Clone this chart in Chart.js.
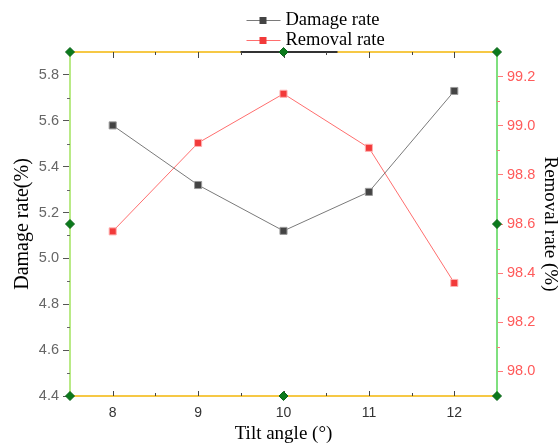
<!DOCTYPE html>
<html>
<head>
<meta charset="utf-8">
<script src="https://cdn.jsdelivr.net/npm/chart.js@4/dist/chart.umd.min.js"></script>
<style>
  html, body { margin: 0; padding: 0; background: #fff; }
  #wrap { width: 558px; height: 444px; position: relative; }
</style>
</head>
<body>
<div id="wrap"><canvas id="tiltChart"></canvas></div>
<script>
const tiltAngles = [8, 9, 10, 11, 12];
const damageRate = [5.58, 5.32, 5.12, 5.29, 5.73];
const removalRate = [98.57, 98.93, 99.13, 98.91, 98.36];

const xTicks = [8, 9, 10, 11, 12];
const damageTicks = [4.4, 4.6, 4.8, 5.0, 5.2, 5.4, 5.6, 5.8];
const removalTicks = [98.0, 98.2, 98.4, 98.6, 98.8, 99.0, 99.2];

// frame markers (green diamonds on corners and edge middles)
const frameX = [7.5, 10, 12.5];
const frameY = [4.4, 5.15, 5.9];

const serif = "'Liberation Serif', 'Times New Roman', serif";
const sans = "'Liberation Sans', Arial, sans-serif";

function midpoints(arr) {
    const out = [];
    for (let i = 0; i < arr.length - 1; i++) out.push((arr[i] + arr[i + 1]) / 2);
    return out;
}

const framePoints = [];
frameX.forEach((x, i) => {
    frameY.forEach((y, j) => {
        if (i === 1 && j === 1) return;
        framePoints.push({ x: x, y: y });
    });
});

const frameDeco = {
    id: 'frameDeco',
    beforeDatasetsDraw(chart) {
        const { ctx, chartArea: a, scales } = chart;
        const line = (x1, y1, x2, y2) => {
            ctx.beginPath();
            ctx.moveTo(x1, y1);
            ctx.lineTo(x2, y2);
            ctx.stroke();
        };
        ctx.save();
        // top border
        ctx.strokeStyle = '#f6c845';
        ctx.lineWidth = 2;
        line(a.left, a.top, a.right, a.top);

        // dark segment on the top edge
        const cx = (a.left + a.right) / 2;
        ctx.strokeStyle = '#333';
        line(cx - 43, a.top, cx + 54, a.top);

        // inward ticks on top and bottom
        ctx.strokeStyle = '#444';
        ctx.lineWidth = 1;
        xTicks.forEach(v => {
            const px = Math.round(scales.x.getPixelForValue(v)) + 0.5;
            line(px, a.top, px, a.top + 6);
            line(px, a.bottom, px, a.bottom - 5);
        });
        midpoints(xTicks).forEach(v => {
            const px = Math.round(scales.x.getPixelForValue(v)) + 0.5;
            line(px, a.top, px, a.top + 3);
            line(px, a.bottom, px, a.bottom - 3);
        });

        // minor ticks on left axis
        ctx.strokeStyle = '#666';
        midpoints(damageTicks).forEach(v => {
            const py = Math.round(scales.y.getPixelForValue(v)) + 0.5;
            line(a.left, py, a.left - 3, py);
        });
        // minor ticks on right axis
        ctx.strokeStyle = '#ff7a7a';
        midpoints(removalTicks).forEach(v => {
            const py = Math.round(scales.y1.getPixelForValue(v)) + 0.5;
            line(a.right, py, a.right + 3, py);
        });
        ctx.restore();
    },
    afterDraw(chart) {
        const { ctx, chartArea: a } = chart;
        const cx = (a.left + a.right) / 2;
        const rows = [
            { ds: chart.data.datasets[0], y: 20 },
            { ds: chart.data.datasets[1], y: 40 }
        ];
        ctx.save();
        rows.forEach(r => {
            ctx.strokeStyle = r.ds.borderColor;
            ctx.lineWidth = 1;
            ctx.beginPath();
            ctx.moveTo(cx - 37, r.y + 0.5);
            ctx.lineTo(cx - 3, r.y + 0.5);
            ctx.stroke();
            ctx.fillStyle = r.ds.pointBackgroundColor;
            ctx.fillRect(cx - 24, r.y - 3, 7, 7);
            ctx.fillStyle = '#000';
            ctx.font = '18.5px ' + serif;
            ctx.textBaseline = 'middle';
            ctx.fillText(r.ds.label, cx + 2, r.y);
        });
        ctx.restore();
    }
};

const ctx = document.getElementById('tiltChart').getContext('2d');

new Chart(ctx, {
    type: 'line',
    data: {
        datasets: [
            {
                label: 'Damage rate',
                data: tiltAngles.map((x, i) => ({ x: x, y: damageRate[i] })),
                yAxisID: 'y',
                borderColor: '#7a7a7a',
                borderWidth: 1,
                pointStyle: 'rect',
                pointRadius: 5,
                pointBackgroundColor: '#444444',
                pointBorderColor: '#9a9a9a',
                pointBorderWidth: 1,
                tension: 0
            },
            {
                label: 'Removal rate',
                data: tiltAngles.map((x, i) => ({ x: x, y: removalRate[i] })),
                yAxisID: 'y1',
                borderColor: '#ff6e6e',
                borderWidth: 1,
                pointStyle: 'rect',
                pointRadius: 5,
                pointBackgroundColor: '#f23a3a',
                pointBorderColor: '#ffb0b0',
                pointBorderWidth: 1,
                tension: 0
            },
            {
                label: 'frame',
                data: framePoints,
                yAxisID: 'y',
                showLine: false,
                clip: false,
                pointStyle: 'rectRot',
                pointRadius: 4.5,
                pointBackgroundColor: '#0b7a1c',
                pointBorderColor: '#0a6418',
                pointBorderWidth: 1
            }
        ]
    },
    options: {
        responsive: true,
        maintainAspectRatio: false,
        animation: false,
        layout: { padding: { top: 52, left: 0, right: 0, bottom: 0 } },
        plugins: {
            legend: { display: false },
            tooltip: { enabled: false }
        },
        scales: {
            x: {
                type: 'linear',
                position: 'bottom',
                min: 7.5,
                max: 12.5,
                afterBuildTicks: s => { s.ticks = xTicks.map(v => ({ value: v })); },
                afterFit: s => { s.height = 48; },
                grid: { drawOnChartArea: false, drawTicks: false },
                border: { color: '#f6c845', width: 2 },
                ticks: {
                    padding: 9,
                    color: '#333',
                    font: { family: sans, size: 14 }
                },
                title: {
                    display: true,
                    text: 'Tilt angle (°)',
                    color: '#000',
                    font: { family: serif, size: 19 },
                    padding: { top: 0, bottom: -1 }
                }
            },
            y: {
                position: 'left',
                min: 4.4,
                max: 5.9,
                afterBuildTicks: s => { s.ticks = damageTicks.map(v => ({ value: v })); },
                afterFit: s => { s.width = 70; },
                grid: { drawOnChartArea: false, drawTicks: true, tickLength: 7, color: '#555' },
                border: { color: '#b9ea86', width: 2 },
                ticks: {
                    padding: 4,
                    color: '#666',
                    font: { family: sans, size: 14.5 },
                    callback: v => v.toFixed(1)
                },
                title: {
                    display: true,
                    text: 'Damage rate(%)',
                    color: '#000',
                    font: { family: serif, size: 20 },
                    padding: { top: 11, bottom: 0 }
                }
            },
            y1: {
                position: 'right',
                min: 97.9,
                max: 99.3,
                afterBuildTicks: s => { s.ticks = removalTicks.map(v => ({ value: v })); },
                afterFit: s => { s.width = 61; },
                grid: { drawOnChartArea: false, drawTicks: true, tickLength: 6, color: '#ff7a7a' },
                border: { color: '#7fe07f', width: 2 },
                ticks: {
                    padding: 4,
                    color: '#ff5a5a',
                    font: { family: sans, size: 14.5 },
                    callback: v => v.toFixed(1)
                },
                title: {
                    display: true,
                    text: 'Removal rate (%)',
                    color: '#000',
                    font: { family: serif, size: 19 },
                    padding: { top: -3, bottom: 0 }
                }
            }
        }
    },
    plugins: [frameDeco]
});
</script>
</body>
</html>
